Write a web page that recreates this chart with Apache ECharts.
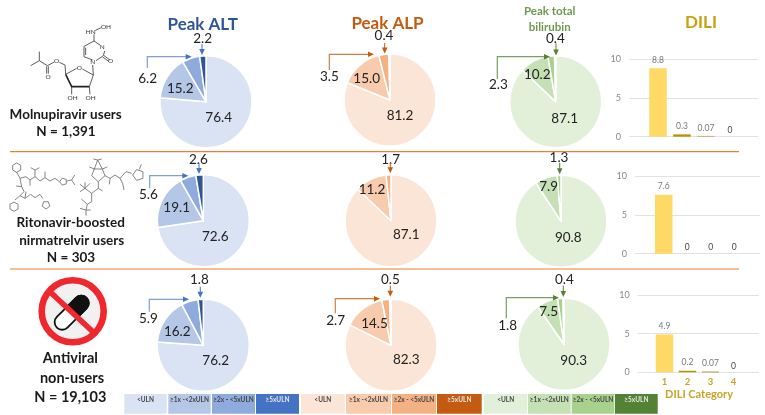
<!DOCTYPE html>
<html><head><meta charset="utf-8">
<style>html,body{margin:0;padding:0;background:#fff}#c{width:765px;height:415px}</style>
<script src="https://cdn.jsdelivr.net/npm/echarts@6/dist/echarts.min.js"></script>
</head><body><div id="c"></div>
<script>
// ---------- data ----------
const panels = ['Peak ALT', 'Peak ALP', 'Peak total bilirubin'];
const levels = ['<ULN', '≥1x -<2xULN', '≥2x - <5xULN', '≥5xULN'];
const altMolnupiravir = [76.4, 15.2, 6.2, 2.2];
const alpMolnupiravir = [81.2, 15.0, 3.5, 0.4];
const tbMolnupiravir  = [87.1, 10.2, 2.3, 0.4];
const altNirmatrelvir = [72.6, 19.1, 5.6, 2.6];
const alpNirmatrelvir = [87.1, 11.2, 1.7];
const tbNirmatrelvir  = [90.8, 7.9, 1.3];
const altNonUsers = [76.2, 16.2, 5.9, 1.8];
const alpNonUsers = [82.3, 14.5, 2.7, 0.5];
const tbNonUsers  = [90.3, 7.5, 1.8, 0.4];
const diliCategories = ['1', '2', '3', '4'];
const diliMolnupiravir = [8.8, 0.3, 0.07, 0];
const diliNirmatrelvir = [7.6, 0, 0, 0];
const diliNonUsers = [4.9, 0.2, 0.07, 0];

// ---------- styles ----------
const FONT = 'Lato, "Open Sans", sans-serif';
const BLUE = ['#DAE3F3', '#B4C7E7', '#8FAADC', '#2F5597'];
const ORANGE = ['#FBE5D6', '#F8CBAD', '#F4B183', '#C55A11'];
const GREEN = ['#E2F0D9', '#C5E0B4', '#A9D18E', '#548235'];
const LEG_BLUE = ['#DAE3F3', '#B4C7E7', '#8FAADC', '#4472C4'];
const GOLD = ['#FFD966', '#BF9000', '#C9B888', '#7F6000'];

// ---------- layout: pie centre + where each value label sits ----------
const pies = [
  {v: altMolnupiravir, c: BLUE,   at: [206, 101.7], lab: [[218.7,117.7],[180.3,89],[147.7,78.3],[202.7,38.3]]},
  {v: alpMolnupiravir, c: ORANGE, at: [390, 100],   lab: [[400,116],[366.7,78.7],[329.3,76.3],[384,35.7]]},
  {v: tbMolnupiravir,  c: GREEN,  at: [555.7,101.7],lab: [[564.7,118.7],[537.3,75],[498.3,84.3],[555.3,38.7]]},
  {v: altNirmatrelvir, c: BLUE,   at: [203.3,220.7],lab: [[215.3,236.7],[176.7,208],[148.3,194.7],[198.3,159.3]]},
  {v: alpNirmatrelvir, c: ORANGE, at: [391, 220.7], lab: [[406.3,234.7],[372,190],[390.7,159.3]]},
  {v: tbNirmatrelvir,  c: GREEN,  at: [561, 221.3], lab: [[568.3,237.7],[548.7,186.7],[559,157.3]]},
  {v: altNonUsers,     c: BLUE,   at: [203.3,345.3],lab: [[215.7,360.3],[177.3,331.7],[148.3,319],[199.3,280]]},
  {v: alpNonUsers,     c: ORANGE, at: [391, 345.3], lab: [[406.3,360],[374.5,323.7],[335.7,320.7],[390.3,280]]},
  {v: tbNonUsers,      c: GREEN,  at: [564, 344.3], lab: [[573.7,360.7],[548.7,311.7],[507.7,325.7],[564.3,280]]}
];
const bars = [
  {v: diliMolnupiravir, wide: [629, 59, 129, 77.7], left: 646, width: 96, labels: false},
  {v: diliNirmatrelvir, wide: [635, 176, 125, 77.7], left: 652, width: 94, labels: false},
  {v: diliNonUsers,     wide: [637.7, 295, 121.3, 77.3], left: 653, width: 92, labels: true}
];

const g = [];
function text(t, x, y, size, color, weight) {
  g.push({type:'text', silent:true, z:5, style:{text:t, x, y, fontFamily:FONT, fontSize:size, fill:color,
    fontWeight:weight||'normal', align:'center', verticalAlign:'middle'}});
}
function line(pts, color, w, z) {
  g.push({type:'polyline', silent:true, z:z||4, shape:{points:pts}, style:{stroke:color, lineWidth:w||1, fill:'none'}});
}
function head(x, y, dir, color) {
  const p = dir === 'down' ? [[x-2.8,y-6],[x+2.8,y-6],[x,y]] : [[x-6,y-2.8],[x-6,y+2.8],[x,y]];
  g.push({type:'polygon', silent:true, z:4, shape:{points:p}, style:{fill:color}});
}
function down(x, y0, y1, color) { line([[x,y0],[x,y1-4]], color, 1); head(x,y1,'down',color); }
function elbow(x, y0, yTop, x1, color, light) { line([[x,y0],[x,yTop],[x1-4,yTop]], light, 1.2); head(x1,yTop,'right',color); }

// separators
line([[10,151.7],[739,151.7]], '#ED7D31', 1.2);
line([[10,269],[739,269]], '#ED7D31', 1.2);

// titles
text('Peak ALT', 202.7, 24.3, 17, '#2F5597', 'bold');
text('Peak ALP', 387.5, 24, 17, '#C55A11', 'bold');
text('Peak total', 549.7, 11.3, 11.5, '#6F9A50', 'bold');
text('bilirubin', 549.7, 27.3, 11.5, '#6F9A50', 'bold');
text('DILI', 701, 22.7, 17, '#C9A00E', 'bold');

// row names
text('Molnupiravir users', 65.7, 114.3, 13.5, '#1a1a1a', 'bold');
text('N = 1,391', 66, 131.7, 13.5, '#1a1a1a', 'bold');
text('Ritonavir-boosted', 70.7, 223, 13.5, '#1a1a1a', 'bold');
text('nirmatrelvir users', 71.7, 240.3, 13.5, '#1a1a1a', 'bold');
text('N = 303', 71, 257.7, 13.5, '#1a1a1a', 'bold');
text('Antiviral', 70.3, 358.7, 14.5, '#1a1a1a', 'bold');
text('non-users', 72, 378.3, 14.5, '#1a1a1a', 'bold');
text('N = 19,103', 70.3, 397, 14.5, '#1a1a1a', 'bold');

// callout arrows
const aB='#4472C4', aBl='#7F9FD6', aO='#C55A11', aOl='#CF7F45', aG='#548235', aGl='#7D9E66';
down(202,44,55,aB); elbow(147.3,68,56.7,191.7,aB,aBl);
down(384.7,43,53.5,aO); elbow(329.3,70,54.3,374,aO,aOl);
down(556,43.3,55.5,aG); elbow(497.3,79,56.7,550,aG,aGl);
down(199,163,174,aB); elbow(149.7,188.3,175.7,188.3,aB,aBl);
down(390.3,162.7,173.3,aO);
down(559.7,162.7,174.3,aG);
down(200.3,286.7,297.7,aB); elbow(149.3,311.7,299.3,189,aB,aBl);
down(390.3,285.7,296.7,aO); elbow(335.3,313.3,298.7,380,aO,aOl);
down(563.3,285.7,297,aG); elbow(506.3,318.3,297.7,559,aG,aGl);

// legend strip
function legend(cols, xs) {
  cols.forEach((c,i)=>{
    g.push({type:'rect', silent:true, z:3, shape:{x:xs[i][0], y:394, width:xs[i][1]-xs[i][0], height:19.7}, style:{fill:c}});
    text(levels[i], (xs[i][0]+xs[i][1])/2, 400, 6.5, i===3?'#E8E8E8':'#444', 'bold');
  });
}
legend(LEG_BLUE, [[124.3,166.7],[168.3,210.7],[212,255],[256,299]]);
legend(ORANGE, [[301,344.7],[346,391],[392,436],[437,481.7]]);
legend(GREEN, [[484,527.3],[528,570.7],[571.7,614.3],[615,657.7]]);

// DILI axis title
text('DILI Category', 699, 394.3, 11, '#C9A227', 'bold');

// molecule sketches
function sketch(paths, ox, oy, s, color, w) {
  paths.forEach(p=>line(p.map(q=>[ox+q[0]*s, oy+q[1]*s]), color, w, 2));
}
function poly(cx, cy, r, n, rot) {
  const a=[]; for(let i=0;i<=n;i++){const t=rot+i*2*Math.PI/n; a.push([cx+r*Math.cos(t), cy+r*Math.sin(t)]);} return a;
}
const molA = [
 [[137,178],[170,160]],[[187,162],[220,180]],[[220,180],[208,215]],[[220,180],[218,150]],
 [[218,135],[192,125],[192,94],[222,78],[240,90]],[[197,120],[197,98]],[[254,108],[250,122],[228,137]],
 [[252,122],[270,135]],[[248,126],[266,139]],[[222,78],[222,58]],[[226,46],[244,38]],
 [[137,178],[135,150],[118,142]],[[103,141],[82,152],[58,137],[58,110]],[[58,137],[32,152]],
 [[80,154],[80,176]],[[85,154],[85,176]],[[155,215],[155,238]],[[208,215],[210,238]]
];
const molAThick = [[[137,178],[155,215],[208,215]]];
sketch(molA, 20, 15, 1/3, '#333', 0.8);
sketch(molAThick, 20, 15, 1/3, '#222', 1.6);
[['HN',212,50],['OH',258,35],['N',247,95],['N',218,142],['O',272,137],['O',178,158],['O',110,138],['O',84,185],['OH',158,248],['OH',212,248]]
 .forEach(a=>text(a[0], 20+a[1]/3, 15+a[2]/3, 6.5, '#333'));
const molB = [
 poly(50,38,14,6,Math.PI/6),[[50,52],[60,70],[78,65],[90,75],[105,65],[120,78],[135,68],[150,78],[165,70],[178,80]],
 poly(190,80,11,5,Math.PI),[[200,78],[215,75],[225,90]],[[215,75],[224,60]],[[105,65],[105,45],[92,38]],[[105,45],[118,38]],
 [[90,75],[90,92]],[[135,68],[135,50]],[[60,70],[65,95],[48,93]],[[65,95],[72,110],[60,122],[45,135]],poly(42,155,14,6,Math.PI/6),
 [[60,122],[75,130],[78,110]],[[75,130],[92,118],[105,128],[120,118],[128,130]],poly(138,150,12,5,Math.PI/2),
 [[293,15],[280,12]],[[293,15],[305,12]],[[293,15],[283,42],[307,42],[293,15]],[[283,42],[268,36]],[[307,42],[322,36]],
 [[283,42],[275,62],[295,80],[315,62],[307,42]],[[295,80],[295,100],[308,108]],[[295,100],[275,115],[255,100],[240,88]],
 [[255,100],[270,85]],[[255,100],[240,110]],[[255,82],[255,100]],[[275,115],[275,140],[262,148],[258,165],[240,160]],
 [[262,148],[244,132]],[[258,165],[272,165]],[[258,165],[258,182]],
 [[315,62],[330,70],[328,88]],[[330,70],[345,60],[360,70],[378,50],[395,55]],[[360,70],[368,85],[372,105]],
 poly(415,60,17,5,Math.PI),[[418,43],[424,28]]
];
sketch(molB, 0, 155, 1/3, '#666', 0.8);

// no-drug icon
g.push({type:'circle', silent:true, z:2, shape:{cx:72.7,cy:311.3,r:31}, style:{fill:'#F1F1F1', stroke:'#F0282D', lineWidth:6.6}});
g.push({type:'group', silent:true, z:2, x:71.7, y:312.7, rotation:Math.PI/4, children:[
  {type:'rect', z:2, shape:{x:-21,y:-7.5,width:42,height:15,r:7.5}, style:{fill:'#fff', stroke:'#111', lineWidth:1.8}},
  {type:'rect', z:3, shape:{x:0,y:-7.5,width:21,height:15,r:[0,7.5,7.5,0]}, style:{fill:'#111', stroke:'#111', lineWidth:1.8}}
]});
line([[48.3,290.3],[95,333.7]], '#F0282D', 5.6, 3);

// ---------- series ----------
const series = [];
const grid = [], xAxis = [], yAxis = [];
pies.forEach(p=>{
  series.push({
    type:'pie', silent:true, animation:false, startAngle:90, clockwise:true, avoidLabelOverlap:false,
    center:p.at, radius:[0,46], z:3,
    itemStyle:{borderColor:'#fff', borderWidth:1.5},
    data:p.v.map((val,i)=>({value:val, name:levels[i], itemStyle:{color:p.c[i]}})),
    label:{show:true, position:'inside', formatter:q=>q.value.toFixed(1), fontFamily:FONT, fontSize:13.5, color:'#222'},
    labelLine:{show:false},
    labelLayout:q=>{const a=p.lab[q.dataIndex]; return {x:a[0], y:a[1], align:'center', verticalAlign:'middle'};}
  });
});
bars.forEach((b,k)=>{
  const [wl,wt,ww,wh]=b.wide, ib=grid.length;
  grid.push({left:wl, top:wt, width:ww, height:wh});
  xAxis.push({gridIndex:ib, type:'value', show:false, min:0, max:1});
  yAxis.push({gridIndex:ib, type:'value', min:0, max:10, interval:5,
    axisLine:{show:false}, axisTick:{show:false},
    axisLabel:{color:'#888', fontFamily:FONT, fontSize:9, margin:8},
    splitLine:{lineStyle:{color:'#E2E2E2', width:1}}});
  grid.push({left:b.left, top:wt, width:b.width, height:wh});
  xAxis.push({gridIndex:ib+1, type:'category', data:diliCategories,
    axisLine:{show:false}, axisTick:{show:false},
    axisLabel:{show:b.labels, color:'#C9A227', fontFamily:FONT, fontSize:9.5, fontWeight:'bold', margin:5}});
  yAxis.push({gridIndex:ib+1, type:'value', show:false, min:0, max:10});
  series.push({
    type:'bar', xAxisIndex:ib+1, yAxisIndex:ib+1, silent:true, animation:false, barWidth:17.5,
    data:b.v.map((val,i)=>({value:val,
      itemStyle:{color:GOLD[i], borderColor:val>0&&val<0.1?GOLD[i]:'transparent', borderWidth:val>0&&val<0.1?1:0},
      label:{color: val===0?'#444':'#777', distance: val===0?2:3.5}})),
    label:{show:true, position:'top', fontFamily:FONT, fontSize:8.5, formatter:q=>String(q.value)}
  });
});

const chart = echarts.init(document.getElementById('c'), null, {renderer:'canvas'});
chart.setOption({backgroundColor:'#fff', animation:false, grid, xAxis, yAxis, series, graphic:{elements:g}});
</script></body></html>
